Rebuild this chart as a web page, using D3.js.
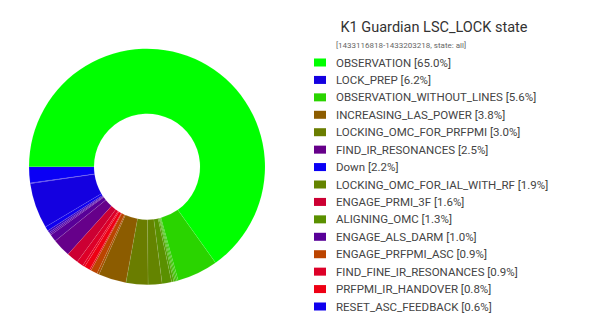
<!DOCTYPE html>
<style>
body { margin: 0; background: #fff; font-family: Roboto, sans-serif; }
</style>
<svg width="590" height="332"></svg>
<script src="https://d3js.org/d3.v7.min.js"></script>
<script>
// legend states, sorted by share (as the reference lists them)
var legendStates = ["OBSERVATION", "LOCK_PREP", "OBSERVATION_WITHOUT_LINES", "INCREASING_LAS_POWER",
  "LOCKING_OMC_FOR_PRFPMI", "FIND_IR_RESONANCES", "Down", "LOCKING_OMC_FOR_IAL_WITH_RF",
  "ENGAGE_PRMI_3F", "ALIGNING_OMC", "ENGAGE_ALS_DARM", "ENGAGE_PRFPMI_ASC",
  "FIND_FINE_IR_RESONANCES", "PRFPMI_IR_HANDOVER", "RESET_ASC_FEEDBACK"];
var legendShares = [65.0, 6.2, 5.6, 3.8, 3.0, 2.5, 2.2, 1.9, 1.6, 1.3, 1.0, 0.9, 0.9, 0.8, 0.6];

// pie slices in state order (unnamed ones are the small states left out of the legend)
var pieStates = ["Down", "s1", "LOCK_PREP", "RESET_ASC_FEEDBACK", "s2", "s3", "s4",
  "ENGAGE_ALS_DARM", "FIND_IR_RESONANCES", "ENGAGE_PRMI_3F", "FIND_FINE_IR_RESONANCES", "s5",
  "PRFPMI_IR_HANDOVER", "s6", "ENGAGE_PRFPMI_ASC", "s7", "INCREASING_LAS_POWER",
  "LOCKING_OMC_FOR_PRFPMI", "LOCKING_OMC_FOR_IAL_WITH_RF", "ALIGNING_OMC", "s8", "s9", "s10", "s11",
  "OBSERVATION_WITHOUT_LINES", "OBSERVATION"];
var pieShares = [2.2, 0.1, 6.2, 0.6, 0.3, 0.2, 0.2,
  1.0, 2.5, 1.6, 0.9, 0.3,
  0.8, 0.2, 0.9, 0.3, 3.8,
  3.0, 1.9, 1.3, 0.3, 0.2, 0.2, 0.2,
  5.6, 65.0];

var colors = {
  "Down": "#0a00f5", "s1": "#2a10e0", "LOCK_PREP": "#1400e0", "RESET_ASC_FEEDBACK": "#1000ee",
  "s2": "#3a08c0", "s3": "#4a00b0", "s4": "#5500a0",
  "ENGAGE_ALS_DARM": "#580098", "FIND_IR_RESONANCES": "#66008a",
  "ENGAGE_PRMI_3F": "#cc0033", "FIND_FINE_IR_RESONANCES": "#dd0028", "s5": "#e80020",
  "PRFPMI_IR_HANDOVER": "#ee0014", "s6": "#e01010", "ENGAGE_PRFPMI_ASC": "#bb4400", "s7": "#a85000",
  "INCREASING_LAS_POWER": "#8c5c00", "LOCKING_OMC_FOR_PRFPMI": "#6a7d00",
  "LOCKING_OMC_FOR_IAL_WITH_RF": "#648400", "ALIGNING_OMC": "#5a9000",
  "s8": "#50a000", "s9": "#46b000", "s10": "#3cc000", "s11": "#34c800",
  "OBSERVATION_WITHOUT_LINES": "#2ad400", "OBSERVATION": "#00ff00"
};

var svg = d3.select("svg");

// donut
var g = svg.append("g").attr("transform", "translate(147,166.7)");

var pie = d3.pie()
    .sort(null)
    .value(function(d, i) { return pieShares[i]; })
    .startAngle(1.5 * Math.PI)
    .endAngle(-0.5 * Math.PI);

var arc = d3.arc().innerRadius(53).outerRadius(118);

g.selectAll("path")
  .data(pie(pieStates))
  .enter().append("path")
    .attr("d", arc)
    .attr("fill", function(d) { return colors[d.data]; })
    .attr("stroke", "#ffffff")
    .attr("stroke-opacity", 0.25)
    .attr("stroke-width", 0.3);

// title
svg.append("text")
    .attr("x", 434)
    .attr("y", 31.5)
    .attr("text-anchor", "middle")
    .attr("font-size", 14.5)
    .attr("fill", "#333")
    .text("K1 Guardian LSC_LOCK state");

svg.append("text")
    .attr("x", 336)
    .attr("y", 48)
    .attr("font-size", 8)
    .attr("fill", "#666")
    .text("[1433116818-1433203218, state: all]");

// legend
var y = d3.scalePoint()
    .domain(legendStates)
    .range([62.5, 306.5]);

var legend = svg.append("g")
  .selectAll("g")
  .data(legendStates)
  .enter().append("g")
    .attr("transform", function(d) { return "translate(0," + y(d) + ")"; });

legend.append("rect")
    .attr("x", 314)
    .attr("y", -4)
    .attr("width", 12)
    .attr("height", 8)
    .attr("fill", function(d) { return colors[d]; });

legend.append("text")
    .attr("x", 336)
    .attr("y", 4)
    .attr("font-size", 11.5)
    .attr("fill", "#444")
    .text(function(d, i) { return d + " [" + legendShares[i].toFixed(1) + "%]"; });
</script>
